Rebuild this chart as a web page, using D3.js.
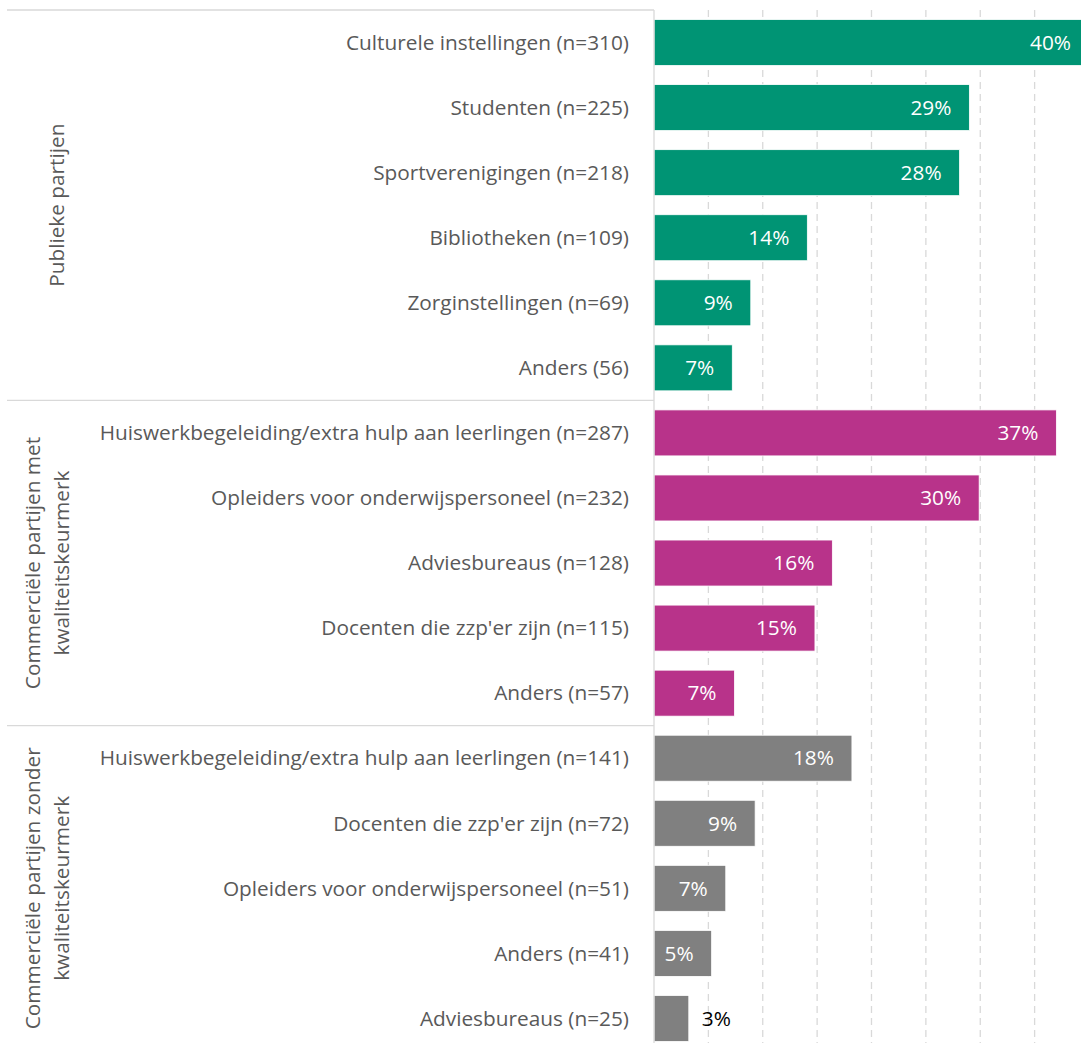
<!DOCTYPE html>
<html>
<head>
<meta charset="utf-8">
<script src="https://cdn.jsdelivr.net/npm/d3@7"></script>
<style>
  html, body { margin: 0; padding: 0; background: #fff; overflow: hidden; }
  svg { display: block; }
  text { font-family: "Open Sans", sans-serif; }
</style>
</head>
<body>
<svg id="chart" width="1081" height="1043"></svg>
<script>
const categories = [
  "Culturele instellingen (n=310)",
  "Studenten (n=225)",
  "Sportverenigingen (n=218)",
  "Bibliotheken (n=109)",
  "Zorginstellingen (n=69)",
  "Anders (56)",
  "Huiswerkbegeleiding/extra hulp aan leerlingen (n=287)",
  "Opleiders voor onderwijspersoneel (n=232)",
  "Adviesbureaus (n=128)",
  "Docenten die zzp'er zijn (n=115)",
  "Anders (n=57)",
  "Huiswerkbegeleiding/extra hulp aan leerlingen (n=141)",
  "Docenten die zzp'er zijn (n=72)",
  "Opleiders voor onderwijspersoneel (n=51)",
  "Anders (n=41)",
  "Adviesbureaus (n=25)"
];
const values = [40.0, 29.0, 28.1, 14.1, 8.9, 7.2, 37.0, 29.9, 16.4, 14.8, 7.4, 18.2, 9.3, 6.6, 5.3, 3.2];
const groupOf = [0,0,0,0,0,0,1,1,1,1,1,2,2,2,2,2];
const groupNames = [
  ["Publieke partijen"],
  ["Commerciële partijen met", "kwaliteitskeurmerk"],
  ["Commerciële partijen zonder", "kwaliteitskeurmerk"]
];
const groupColors = ["#009474", "#B8338A", "#808080"];
const tickValues = [5, 10, 15, 20, 25, 30, 35, 40];

const svg = d3.select("#chart");
const x0 = 654;
const x = d3.scaleLinear().domain([0, 40]).range([x0, x0 + 435]);
const y = d3.scaleBand().domain(d3.range(categories.length))
  .range([10, 1051]).paddingInner(0.293).paddingOuter(0.1465);

const gridColor = "#d9d9d9";
const textColor = "#595959";
const fs = 20.8;

// dashed gridlines
svg.append("g").selectAll("line").data(tickValues).join("line")
  .attr("x1", d => x(d)).attr("x2", d => x(d))
  .attr("y1", 10).attr("y2", 1043)
  .attr("stroke", gridColor).attr("stroke-width", 1.3)
  .attr("stroke-dasharray", "7,5");

// bars
svg.append("g").selectAll("rect").data(values).join("rect")
  .attr("x", x0)
  .attr("y", (d, i) => y(i))
  .attr("width", d => x(d) - x0)
  .attr("height", y.bandwidth())
  .attr("fill", (d, i) => groupColors[groupOf[i]])
  .attr("stroke", "#ffffff").attr("stroke-width", 0.8);

// axis line (vertical)
svg.append("line").attr("x1", x0).attr("x2", x0).attr("y1", 10).attr("y2", 1043)
  .attr("stroke", gridColor).attr("stroke-width", 1.3);
// group boundary lines
const boundaries = [0, 6, 11];
svg.append("g").selectAll("line").data(boundaries).join("line")
  .attr("x1", 7).attr("x2", x0)
  .attr("y1", i => y(i) - y.step() * y.paddingInner() / 2)
  .attr("y2", i => y(i) - y.step() * y.paddingInner() / 2)
  .attr("stroke", gridColor).attr("stroke-width", 1.3);

// category labels
svg.append("g").selectAll("text").data(categories).join("text")
  .attr("x", 629)
  .attr("y", (d, i) => y(i) + y.bandwidth() / 2)
  .attr("dy", "0.35em")
  .attr("text-anchor", "end")
  .attr("font-size", fs)
  .attr("fill", textColor)
  .text(d => d);

// value labels
svg.append("g").selectAll("text").data(values).join("text")
  .attr("x", d => d < 4 ? x(d) + 13 : Math.min(x(d), 1089) - 18)
  .attr("y", (d, i) => y(i) + y.bandwidth() / 2)
  .attr("dy", "0.35em")
  .attr("text-anchor", d => d < 4 ? "start" : "end")
  .attr("font-size", fs)
  .attr("fill", d => d < 4 ? "#000000" : "#ffffff")
  .text(d => Math.round(d) + "%");

// group labels
const groupRanges = [[0, 5], [6, 10], [11, 15]];
groupRanges.forEach((r, gi) => {
  const top = y(r[0]) - y.step() * y.paddingInner() / 2;
  const bottom = y(r[1]) + y.bandwidth() + y.step() * y.paddingInner() / 2;
  const cy = (top + bottom) / 2;
  const lines = groupNames[gi];
  const lh = 29;
  const cx = lines.length > 1 ? 47.5 : 57;
  const t = svg.append("text")
    .attr("transform", `translate(${cx},${cy}) rotate(-90)`)
    .attr("text-anchor", "middle")
    .attr("font-size", fs)
    .attr("fill", textColor);
  lines.forEach((ln, li) => {
    t.append("tspan").attr("x", 0)
      .attr("y", (li - (lines.length - 1) / 2) * lh)
      .attr("dy", "0.35em")
      .text(ln);
  });
});
</script>
</body>
</html>
